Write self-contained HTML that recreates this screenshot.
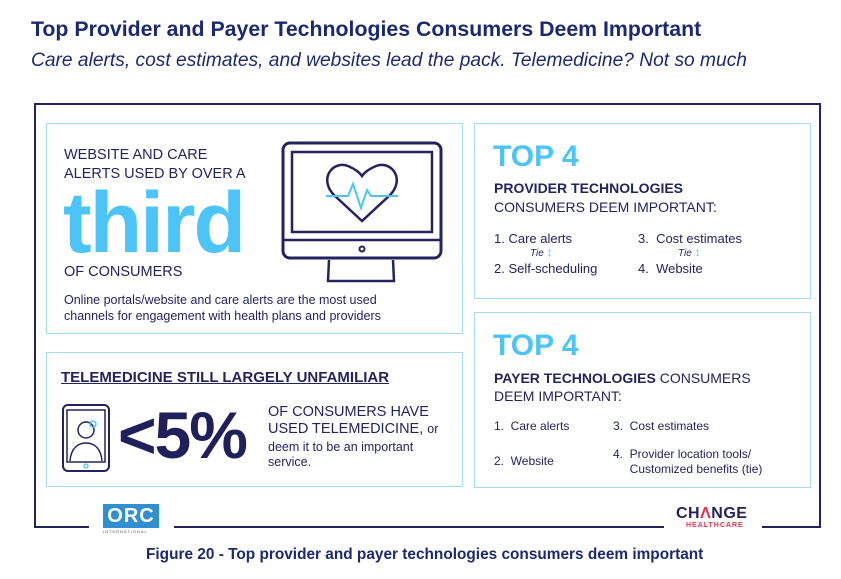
<!DOCTYPE html>
<html><head><meta charset="utf-8"><style>
*{margin:0;padding:0;box-sizing:border-box}
body{width:841px;height:579px;background:#fff;position:relative;overflow:hidden;font-family:"Liberation Sans",sans-serif;color:#23235e}
.a{position:absolute;white-space:nowrap}
.box{position:absolute;border:1.5px solid #a9dbeb}
.blue{color:#4cc4f7;font-weight:bold}
</style></head><body>
<div class="a" style="left:31px;top:17px;font-size:21.3px;font-weight:bold;color:#1b2a70">Top Provider and Payer Technologies Consumers Deem Important</div>
<div class="a" style="left:31px;top:50px;font-size:19.2px;font-style:italic;color:#1b2a70">Care alerts, cost estimates, and websites lead the pack. Telemedicine? Not so much</div>

<div class="a" style="left:34px;top:103px;width:787px;height:2px;background:#23235e"></div>
<div class="a" style="left:34px;top:103px;width:2px;height:425px;background:#23235e"></div>
<div class="a" style="left:819px;top:103px;width:2px;height:425px;background:#23235e"></div>
<div class="a" style="left:34px;top:526px;width:55px;height:2px;background:#23235e"></div>
<div class="a" style="left:174px;top:526px;width:490px;height:2px;background:#23235e"></div>
<div class="a" style="left:762px;top:526px;width:59px;height:2px;background:#23235e"></div>

<div class="box" style="left:46px;top:123px;width:417px;height:211px"></div>
<div class="box" style="left:46px;top:352px;width:417px;height:135px"></div>
<div class="box" style="left:474px;top:123px;width:337px;height:176px"></div>
<div class="box" style="left:474px;top:312px;width:337px;height:176px"></div>

<div class="a" style="left:64px;top:146px;font-size:14.5px;line-height:19px">WEBSITE AND CARE<br>ALERTS USED BY OVER A</div>
<div class="a blue" style="left:63px;top:180px;font-size:86px;letter-spacing:-2px;line-height:86px">third</div>
<div class="a" style="left:64px;top:264px;font-size:14.5px">OF CONSUMERS</div>
<div class="a" style="left:64px;top:292px;font-size:12.5px;line-height:16px">Online portals/website and care alerts are the most used<br>channels for engagement with health plans and providers</div>
<svg class="a" style="left:280px;top:140px" width="165" height="145" viewBox="0 0 165 145">
<rect x="3" y="3" width="158" height="115" rx="7" fill="none" stroke="#23235e" stroke-width="3"/>
<rect x="12" y="12" width="140" height="80" fill="none" stroke="#23235e" stroke-width="2.5"/>
<line x1="3" y1="100" x2="161" y2="100" stroke="#23235e" stroke-width="2.5"/>
<circle cx="82" cy="109" r="2.5" fill="none" stroke="#23235e" stroke-width="2"/>
<path d="M49 120 L48 141 L114 141 L113 120" fill="none" stroke="#23235e" stroke-width="2.5"/>
<path d="M82 81 L55 56 C38 40 52 20 68 26 C75 29 80 33 82 36 C84 33 89 29 96 26 C112 20 126 40 109 56 Z" fill="none" stroke="#23235e" stroke-width="2.5"/>
<polyline points="46,56 68,56 73,44 81,68 87,50 91,56 118,56" fill="none" stroke="#4cc4f7" stroke-width="2"/>
</svg>

<div class="a" style="left:61px;top:369px;font-size:15px;font-weight:bold;text-decoration:underline">TELEMEDICINE STILL LARGELY UNFAMILIAR</div>
<svg class="a" style="left:61px;top:403px" width="50" height="70" viewBox="0 0 50 70">
<rect x="2" y="2" width="46" height="66" rx="5" fill="none" stroke="#23235e" stroke-width="2"/>
<rect x="6" y="7" width="38" height="52" fill="none" stroke="#23235e" stroke-width="1.5"/>
<circle cx="25" cy="27" r="8" fill="none" stroke="#23235e" stroke-width="1.5"/>
<path d="M9 58 C10 45 17 40 25 40 C33 40 40 45 41 58" fill="none" stroke="#23235e" stroke-width="1.5"/>
<circle cx="32" cy="21" r="3" fill="none" stroke="#4cc4f7" stroke-width="1.5"/>
<circle cx="25" cy="63" r="2" fill="none" stroke="#4cc4f7" stroke-width="1.3"/>
</svg>
<div class="a" style="left:118px;top:400px;font-size:66px;font-weight:bold;letter-spacing:-2px;line-height:70px;color:#1f1f5c">&lt;5%</div>
<div class="a" style="left:268px;top:404px;font-size:14.5px;line-height:17px">OF CONSUMERS HAVE<br>USED TELEMEDICINE, <span style="font-size:12.5px">or</span></div>
<div class="a" style="left:268px;top:440px;font-size:12.5px;line-height:15px">deem it to be an important<br>service.</div>

<div class="a blue" style="left:493px;top:140px;font-size:30px;line-height:34px">TOP 4</div>
<div class="a" style="left:494px;top:180px;font-size:14px;font-weight:bold">PROVIDER TECHNOLOGIES</div>
<div class="a" style="left:494px;top:199px;font-size:14px">CONSUMERS DEEM IMPORTANT:</div>
<div class="a" style="left:494px;top:231px;font-size:13px">1. Care alerts</div>
<div class="a" style="left:530px;top:245px;font-size:10px;font-style:italic">Tie <span style="color:#4cc4f7;font-style:normal;font-size:12px">↕</span></div>
<div class="a" style="left:494px;top:261px;font-size:13px">2. Self-scheduling</div>
<div class="a" style="left:638px;top:231px;font-size:13px">3.&nbsp; Cost estimates</div>
<div class="a" style="left:678px;top:245px;font-size:10px;font-style:italic">Tie <span style="color:#4cc4f7;font-style:normal;font-size:12px">↕</span></div>
<div class="a" style="left:638px;top:261px;font-size:13px">4.&nbsp; Website</div>

<div class="a blue" style="left:493px;top:329px;font-size:30px;line-height:34px">TOP 4</div>
<div class="a" style="left:494px;top:370px;font-size:14px"><b>PAYER TECHNOLOGIES</b> CONSUMERS</div>
<div class="a" style="left:494px;top:388px;font-size:14px">DEEM IMPORTANT:</div>
<div class="a" style="left:494px;top:419px;font-size:12px">1.&nbsp; Care alerts</div>
<div class="a" style="left:494px;top:454px;font-size:12px">2.&nbsp; Website</div>
<div class="a" style="left:613px;top:419px;font-size:12px">3.&nbsp; Cost estimates</div>
<div class="a" style="left:613px;top:447px;font-size:12px;line-height:15px">4.&nbsp; Provider location tools/<br>&nbsp;&nbsp;&nbsp;&nbsp;&nbsp;Customized benefits (tie)</div>

<div class="a" style="left:103px;top:504px;width:56px;height:24px;background:#2f8fd0;color:#fff;font-weight:bold;font-size:20px;line-height:24px;text-align:center;letter-spacing:1px">ORC</div>
<div class="a" style="left:103px;top:529px;font-size:4px;letter-spacing:1px;color:#555">INTERNATIONAL</div>
<div class="a" style="left:676px;top:505px;font-size:16px;font-weight:bold;color:#23235e;letter-spacing:0.5px">CH<span style="color:#e8334a">Λ</span>NGE</div>
<div class="a" style="left:686px;top:522px;font-size:7px;font-weight:bold;color:#e8334a;letter-spacing:1px">HEALTHCARE</div>

<div class="a" style="left:146px;top:546px;font-size:15.4px;font-weight:bold;color:#1b2a70">Figure 20 - Top provider and payer technologies consumers deem important</div>
</body></html>
